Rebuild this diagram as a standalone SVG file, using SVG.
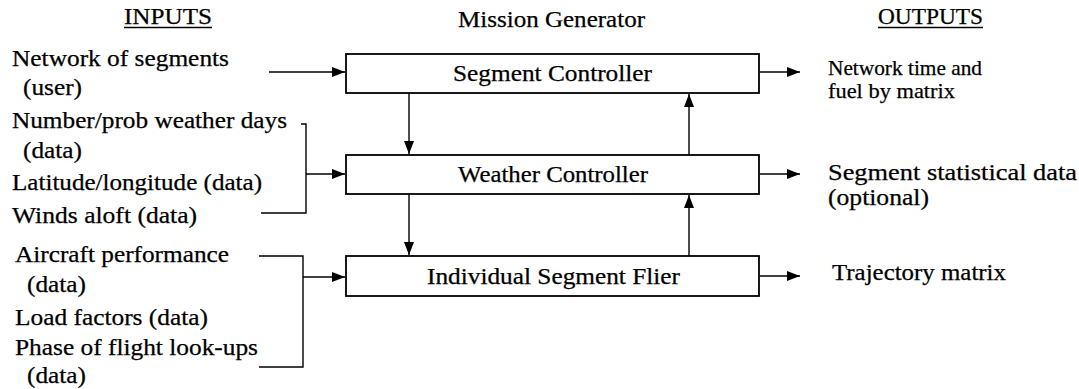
<svg xmlns="http://www.w3.org/2000/svg" width="1079" height="389" viewBox="0 0 1079 389">
<style>
text{font-family:"Liberation Serif","Times New Roman",serif;font-size:23px;fill:#000;stroke:#000;stroke-width:0.25}
.sm{font-size:22px}
.box{fill:#fff;stroke:#000;stroke-width:1.8}
.c{fill:none;stroke:#000;stroke-width:1.4}
.u{stroke:#000;stroke-width:1.4}
</style>
<defs>
<marker id="ah" markerUnits="userSpaceOnUse" markerWidth="14" markerHeight="11" refX="13" refY="5" orient="auto">
<path d="M0,0 L13,5 L0,10 z" fill="#000"/>
</marker>
</defs>
<rect width="1079" height="389" fill="#fff"/>

<g id="headers">
<text x="124" y="24" textLength="88" lengthAdjust="spacingAndGlyphs">INPUTS</text>
<line class="u" x1="124" y1="27.5" x2="212" y2="27.5"/>
<text x="458" y="27" textLength="187" lengthAdjust="spacingAndGlyphs">Mission Generator</text>
<text x="878" y="24" textLength="105" lengthAdjust="spacingAndGlyphs">OUTPUTS</text>
<line class="u" x1="878" y1="27.5" x2="983" y2="27.5"/>
</g>

<g id="input-network">
<text x="12" y="66" textLength="217" lengthAdjust="spacingAndGlyphs">Network of segments</text>
<text x="23" y="95" textLength="59" lengthAdjust="spacingAndGlyphs">(user)</text>
</g>
<g id="input-weather">
<text x="12" y="128" textLength="275" lengthAdjust="spacingAndGlyphs">Number/prob weather days</text>
<text x="23" y="158" textLength="59" lengthAdjust="spacingAndGlyphs">(data)</text>
<text x="12" y="190" textLength="250" lengthAdjust="spacingAndGlyphs">Latitude/longitude (data)</text>
<text x="12" y="223" textLength="185" lengthAdjust="spacingAndGlyphs">Winds aloft (data)</text>
</g>
<g id="input-aircraft">
<text x="15" y="262" textLength="214" lengthAdjust="spacingAndGlyphs">Aircraft performance</text>
<text x="27" y="292" textLength="59" lengthAdjust="spacingAndGlyphs">(data)</text>
<text x="15" y="325" textLength="193" lengthAdjust="spacingAndGlyphs">Load factors (data)</text>
<text x="15" y="355" textLength="243" lengthAdjust="spacingAndGlyphs">Phase of flight look-ups</text>
<text x="27" y="383" textLength="59" lengthAdjust="spacingAndGlyphs">(data)</text>
</g>

<g id="segment-controller">
<rect class="box" x="346" y="54" width="413" height="39"/>
<text x="453" y="81" textLength="199" lengthAdjust="spacingAndGlyphs">Segment Controller</text>
</g>
<g id="weather-controller">
<rect class="box" x="346" y="155" width="413" height="39"/>
<text x="458" y="182" textLength="190" lengthAdjust="spacingAndGlyphs">Weather Controller</text>
</g>
<g id="individual-segment-flier">
<rect class="box" x="346" y="256" width="413" height="40"/>
<text x="427" y="284" textLength="253" lengthAdjust="spacingAndGlyphs">Individual Segment Flier</text>
</g>

<g id="output-network">
<text class="sm" x="828" y="75" textLength="154" lengthAdjust="spacingAndGlyphs">Network time and</text>
<text class="sm" x="828" y="98" textLength="127" lengthAdjust="spacingAndGlyphs">fuel by matrix</text>
</g>
<g id="output-statistics">
<text x="828" y="180" textLength="249" lengthAdjust="spacingAndGlyphs">Segment statistical data</text>
<text x="828" y="205" textLength="101" lengthAdjust="spacingAndGlyphs">(optional)</text>
</g>
<g id="output-trajectory">
<text x="832" y="280" textLength="174" lengthAdjust="spacingAndGlyphs">Trajectory matrix</text>
</g>

<g id="connectors">
<path class="c" d="M269,72 H345" marker-end="url(#ah)"/>
<path class="c" d="M301,124 H306 V213 H261"/>
<path class="c" d="M306,174 H345" marker-end="url(#ah)"/>
<path class="c" d="M259,256 H303 V367 H259"/>
<path class="c" d="M303,277 H345" marker-end="url(#ah)"/>
<path class="c" d="M409,93 V154" marker-end="url(#ah)"/>
<path class="c" d="M409,194 V255" marker-end="url(#ah)"/>
<path class="c" d="M689,155 V94" marker-end="url(#ah)"/>
<path class="c" d="M689,256 V195" marker-end="url(#ah)"/>
<path class="c" d="M760,72 H800" marker-end="url(#ah)"/>
<path class="c" d="M760,174 H800" marker-end="url(#ah)"/>
<path class="c" d="M760,276 H800" marker-end="url(#ah)"/>
</g>
</svg>
